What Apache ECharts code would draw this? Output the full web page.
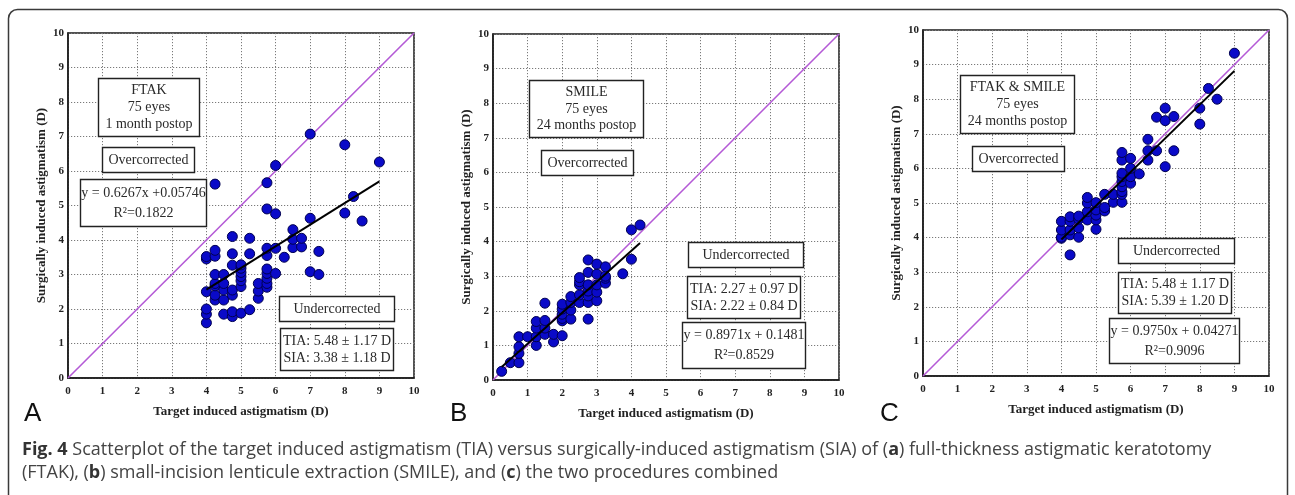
<!DOCTYPE html>
<html>
<head>
<meta charset="utf-8">
<script src="https://cdn.jsdelivr.net/npm/echarts@6/dist/echarts.min.js"></script>
<style>
  html, body { margin: 0; padding: 0; background: #fff; }
  #main { width: 1295px; height: 495px; }
</style>
</head>
<body>
<div id="main"></div>
<script>
// [TIA, SIA]
var ftakPoints = [
  [4.0,1.6],[4.0,1.85],[4.0,2.0],[4.0,2.5],[4.0,3.45],[4.0,3.52],
  [4.25,2.26],[4.25,2.4],[4.25,2.67],[4.25,2.74],[4.25,3.0],[4.25,3.53],[4.25,3.7],[4.25,5.62],
  [4.5,1.85],[4.5,2.26],[4.5,2.55],[4.5,2.74],[4.5,3.0],
  [4.75,1.78],[4.75,1.92],[4.75,2.4],[4.75,2.55],[4.75,3.27],[4.75,3.6],[4.75,4.1],
  [5.0,1.88],[5.0,2.65],[5.0,2.82],[5.0,2.94],[5.0,3.06],[5.0,3.18],[5.0,3.28],
  [5.25,1.98],[5.25,3.6],[5.25,4.05],
  [5.5,2.31],[5.5,2.52],[5.5,2.74],
  [5.75,2.63],[5.75,2.74],[5.75,2.89],[5.75,3.03],[5.75,3.16],[5.75,3.55],[5.75,3.76],[5.75,4.9],[5.75,5.66],
  [6.0,3.03],[6.0,3.76],[6.0,4.76],[6.0,6.16],
  [6.25,3.5],
  [6.5,3.78],[6.5,4.02],[6.5,4.3],
  [6.75,3.8],[6.75,4.05],
  [7.0,3.08],[7.0,4.63],[7.0,7.07],
  [7.25,3.0],[7.25,3.67],
  [8.0,4.78],[8.0,6.76],[8.25,5.26],[8.5,4.55],[9.0,6.26]
];
var smilePoints = [
  [0.25,0.25],[0.5,0.5],[0.75,0.5],[0.75,0.77],[0.75,0.96],[0.75,1.25],[1.0,1.25],
  [1.25,1.0],[1.25,1.25],[1.25,1.5],[1.25,1.69],
  [1.5,1.32],[1.5,1.5],[1.5,1.72],[1.5,2.22],
  [1.75,1.1],[1.75,1.32],
  [2.0,1.28],[2.0,1.71],[2.0,1.78],[2.0,1.9],[2.0,2.05],[2.0,2.19],
  [2.25,1.76],[2.25,2.02],[2.25,2.24],[2.25,2.41],
  [2.5,2.24],[2.5,2.46],[2.5,2.75],[2.5,2.84],[2.5,2.96],
  [2.75,1.76],[2.75,2.24],[2.75,2.43],[2.75,2.57],[2.75,2.75],[2.75,3.11],[2.75,3.47],
  [3.0,2.29],[3.0,2.54],[3.0,2.75],[3.0,3.06],[3.0,3.35],
  [3.25,2.8],[3.25,2.94],[3.25,3.0],[3.25,3.27],
  [3.75,3.07],[4.0,3.49],[4.0,4.34],[4.25,4.48]
];
var bothPoints = [
  [4.0,3.98],[4.0,4.01],[4.0,4.22],[4.0,4.47],
  [4.25,3.5],[4.25,4.08],[4.25,4.22],[4.25,4.47],[4.25,4.6],
  [4.5,4.01],[4.5,4.28],[4.5,4.53],[4.5,4.62],
  [4.75,4.51],[4.75,4.75],[4.75,5.0],[4.75,5.16],
  [5.0,4.24],[5.0,4.51],[5.0,4.65],[5.0,4.8],[5.0,5.01],
  [5.25,4.77],[5.25,4.87],[5.25,5.25],
  [5.5,5.02],[5.5,5.25],
  [5.75,5.02],[5.75,5.25],[5.75,5.33],[5.75,5.47],[5.75,5.62],[5.75,5.76],[5.75,5.86],[5.75,6.24],[5.75,6.46],
  [6.0,5.57],[6.0,5.76],[6.0,6.0],[6.0,6.29],
  [6.25,5.84],
  [6.5,6.24],[6.5,6.51],[6.5,6.84],
  [6.75,6.51],[6.75,7.48],
  [7.0,6.05],[7.0,7.38],[7.0,7.74],
  [7.25,6.51],[7.25,7.5],
  [8.0,7.28],[8.0,7.74],[8.25,8.31],[8.5,8.0],[9.0,9.33]
];

// regression fits printed on the panels
var slopes = [0.6267, 0.8971, 0.9750];
var intercepts = [0.05746, 0.1481, 0.04271];
var fitRanges = [[4, 9], [0.25, 4.25], [4, 9]];
var identity = [[0, 0], [10, 10]];
var axisTicks = [0, 1, 2, 3, 4, 5, 6, 7, 8, 9, 10];

var serif = '"Liberation Serif", "Times New Roman", serif';
var chart = echarts.init(document.getElementById('main'));

var panels = [
  {pts: ftakPoints, grid: {left: 68, top: 33, width: 346, height: 345}, letter: 'A', lx: 24},
  {pts: smilePoints, grid: {left: 493, top: 34, width: 346, height: 346}, letter: 'B', lx: 450},
  {pts: bothPoints, grid: {left: 923, top: 30, width: 346, height: 346}, letter: 'C', lx: 880}
];

// annotation boxes: [left, top, width, height, text, lineHeight]
var boxes = [
  [98, 78, 101, 58, 'FTAK\n75 eyes\n1 month postop', 16.7],
  [102, 147, 92, 25, 'Overcorrected', 16],
  [80, 179, 126, 47, 'y = 0.6267x +0.05746\nR\u00b2=0.1822', 20],
  [279, 296, 115, 25, 'Undercorrected', 16],
  [280, 328, 113, 42, 'TIA: 5.48 \u00b1 1.17 D\nSIA: 3.38 \u00b1 1.18 D', 17],

  [529, 80, 114, 57, 'SMILE\n75 eyes\n24 months postop', 16.7],
  [541, 150, 92, 25, 'Overcorrected', 16],
  [688, 242, 115, 25, 'Undercorrected', 16],
  [687, 276, 113, 42, 'TIA: 2.27 \u00b1 0.97 D\nSIA: 2.22 \u00b1 0.84 D', 17],
  [682, 322, 123, 46, 'y = 0.8971x + 0.1481\nR\u00b2=0.8529', 20],

  [960, 75, 114, 58, 'FTAK & SMILE\n75 eyes\n24 months postop', 16.7],
  [972, 146, 92, 25, 'Overcorrected', 16],
  [1118, 238, 116, 25, 'Undercorrected', 16],
  [1118, 272, 113, 41, 'TIA: 5.48 \u00b1 1.17 D\nSIA: 5.39 \u00b1 1.20 D', 17],
  [1109, 318, 130, 45, 'y = 0.9750x + 0.04271\nR\u00b2=0.9096', 20]
];

var grids = [], xAxes = [], yAxes = [], series = [], graphics = [];

panels.forEach(function (p, i) {
  grids.push(Object.assign({show: true, borderColor: '#1a1a1a', borderWidth: 1.5, backgroundColor: '#fff'}, p.grid));
  var common = {
    gridIndex: i, type: 'value', min: axisTicks[0], max: axisTicks[axisTicks.length - 1], interval: 1,
    axisLine: {show: true, lineStyle: {color: '#1a1a1a', width: 1.5}},
    axisTick: {show: false},
    splitLine: {show: true, lineStyle: {color: '#7a7a7a', width: 1, type: [1.2, 1.8]}},
    axisLabel: {fontFamily: serif, fontWeight: 'bold', fontSize: 11, color: '#222'},
    nameLocation: 'middle',
    nameTextStyle: {fontFamily: serif, fontWeight: 'bold', fontSize: 13, color: '#222'}
  };
  xAxes.push(Object.assign({}, common, {name: 'Target induced astigmatism (D)', nameGap: 27,
    axisLabel: Object.assign({}, common.axisLabel, {margin: 8})}));
  yAxes.push(Object.assign({}, common, {name: 'Surgically induced astigmatism (D)', nameGap: 20,
    axisLabel: Object.assign({}, common.axisLabel, {margin: 4})}));

  series.push({
    type: 'line', xAxisIndex: i, yAxisIndex: i, data: identity, symbol: 'none', silent: true,
    lineStyle: {color: '#b45ad6', width: 1.6}, z: 2
  });
  series.push({
    type: 'scatter', xAxisIndex: i, yAxisIndex: i, data: p.pts, symbolSize: 10,
    itemStyle: {color: '#0a0ac8', borderColor: '#000050', borderWidth: 1, opacity: 1}, z: 3
  });
  var r = fitRanges[i];
  series.push({
    type: 'line', xAxisIndex: i, yAxisIndex: i, symbol: 'none', silent: true,
    data: [[r[0], slopes[i] * r[0] + intercepts[i]], [r[1], slopes[i] * r[1] + intercepts[i]]],
    lineStyle: {color: '#000', width: 2}, z: 4
  });

  graphics.push({
    type: 'text', left: p.lx, top: 401, z: 10,
    style: {text: p.letter, font: '26px "Liberation Sans", Arial, sans-serif', fill: '#111'}
  });
});

boxes.forEach(function (b) {
  graphics.push({
    type: 'group', z: 20,
    children: [
      {type: 'rect', shape: {x: b[0] + 0.5, y: b[1] + 0.5, width: b[2], height: b[3]}, z: 20,
        style: {fill: '#fff', stroke: '#222', lineWidth: 1.4}},
      {type: 'text', x: b[0] + b[2] / 2 + 0.5, y: b[1] + b[3] / 2 + 0.5, z: 21,
        style: {text: b[4], align: 'center', verticalAlign: 'middle', lineHeight: b[5],
          fontFamily: serif, fontSize: 14, fill: '#2a2a2a'}}
    ]
  });
});

// outer frame and caption
graphics.push({
  type: 'rect', z: 30, silent: true,
  shape: {x: 8.5, y: 9.5, width: 1279, height: 520, r: 9},
  style: {fill: 'none', stroke: '#3a3a3a', lineWidth: 1.5}
});
var capFont = '"Open Sans", sans-serif';
var capRich = {b: {fontFamily: capFont, fontWeight: 'bold', fontSize: 18, fill: '#333'}};
graphics.push({
  type: 'text', left: 22, top: 441, z: 30,
  style: {text: '{b|Fig. 4} Scatterplot of the target induced astigmatism (TIA) versus surgically-induced astigmatism (SIA) of ({b|a}) full-thickness astigmatic keratotomy',
    fontFamily: capFont, fontSize: 18, fill: '#444', rich: capRich}
});
graphics.push({
  type: 'text', left: 22, top: 464, z: 30,
  style: {text: '(FTAK), ({b|b}) small-incision lenticule extraction (SMILE), and ({b|c}) the two procedures combined',
    fontFamily: capFont, fontSize: 18, fill: '#444', rich: capRich}
});

chart.setOption({
  animation: false,
  backgroundColor: '#fff',
  grid: grids,
  xAxis: xAxes,
  yAxis: yAxes,
  series: series,
  graphic: graphics
});
</script>
</body>
</html>
